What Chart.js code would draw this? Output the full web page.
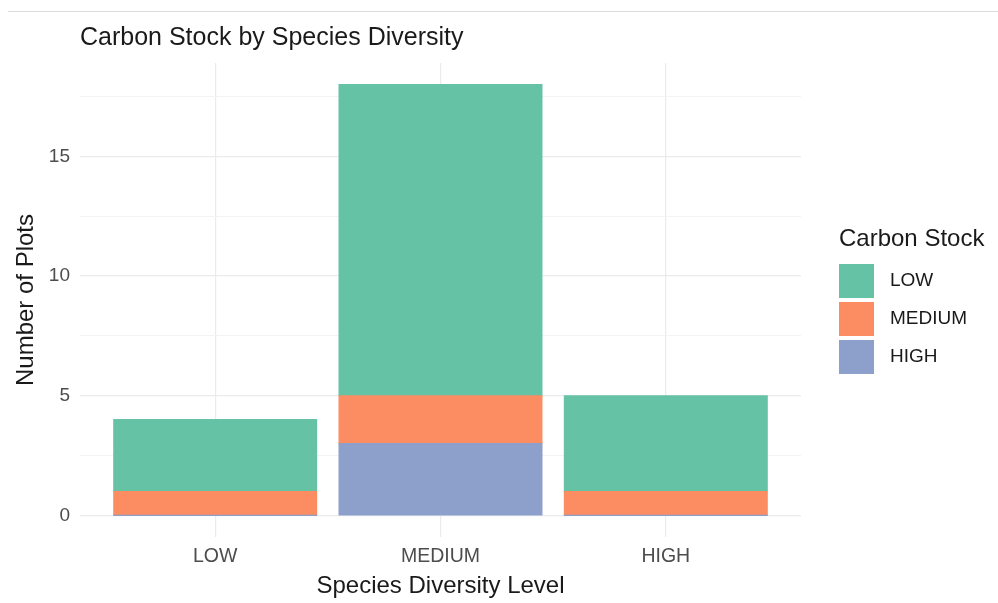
<!DOCTYPE html>
<html>
<head>
<meta charset="utf-8">
<script src="https://cdn.jsdelivr.net/npm/chart.js@4.4.1/dist/chart.umd.min.js"></script>
<style>
  html, body { margin: 0; padding: 0; background: #fff; }
  #wrap { position: relative; width: 998px; height: 603px; }
  #topline { position: absolute; left: 8px; right: 0; top: 11px; height: 1px; background: #dcdcdc; }
</style>
</head>
<body>
<div id="wrap">
  <div id="topline"></div>
  <canvas id="stock"></canvas>
</div>
<script>
const diversityLevels = ['LOW', 'MEDIUM', 'HIGH']
const stockLevels = ['HIGH', 'MEDIUM', 'LOW'] // bottom of stack first
const plotsHighStock = [0, 3, 0]
const plotsMediumStock = [1, 2, 1]
const plotsLowStock = [3, 13, 4]
const yTicks = [0, 2.5, 5, 7.5, 10, 12.5, 15, 17.5]

const stockColors = { LOW: '#66c2a5', MEDIUM: '#fc8d62', HIGH: '#8da0cb' }
const seriesByStock = { HIGH: plotsHighStock, MEDIUM: plotsMediumStock, LOW: plotsLowStock }

const font = 'Liberation Sans, Arial, Helvetica, sans-serif'
const isMajor = (ctx) => ctx.tick && ctx.tick.value % 5 === 0

// ggplot-style legend on the right: title, then square keys, top series first
const sideLegend = {
  id: 'sideLegend',
  afterDraw(chart) {
    const ctx = chart.ctx
    const x = chart.chartArea.right + 38
    ctx.save()
    ctx.textAlign = 'left'
    ctx.textBaseline = 'middle'
    ctx.fillStyle = '#1a1a1a'
    ctx.font = '24px ' + font
    ctx.fillText('Carbon Stock', x, 239)
    ctx.font = '19px ' + font
    chart.data.datasets.slice().reverse().forEach((ds, i) => {
      const top = 264 + i * 38
      ctx.fillStyle = ds.backgroundColor
      ctx.fillRect(x, top, 35, 34)
      ctx.fillStyle = '#1a1a1a'
      ctx.fillText(ds.label, x + 51, top + 17)
    })
    ctx.restore()
  },
}

const stockConfig = {
  type: 'bar',
  data: {
    datasets: stockLevels.map((lvl) => ({
      label: lvl,
      backgroundColor: stockColors[lvl],
      borderWidth: 0,
      inflateAmount: 0.6,
      data: seriesByStock[lvl].map((v, i) => ({ x: i, y: v })),
    })),
  },
  options: {
    responsive: true,
    maintainAspectRatio: false,
    animation: false,
    categoryPercentage: 0.9,
    barPercentage: 1,
    layout: { padding: { left: 0, right: 197, top: 0, bottom: 0 } },
    plugins: {
      tooltip: { enabled: false },
      legend: { display: false },
      title: {
        display: true,
        text: 'Carbon Stock by Species Diversity',
        align: 'start',
        fullSize: false,
        color: '#1a1a1a',
        font: { family: font, size: 25, weight: 'normal' },
        padding: { top: 23, bottom: 10 },
      },
    },
    scales: {
      x: {
        type: 'linear',
        stacked: true,
        offset: false,
        min: -0.6,
        max: 2.6,
        afterBuildTicks: (s) => { s.ticks = diversityLevels.map((_, i) => ({ value: i })) },
        afterFit: (s) => { s.height = 66 },
        border: { display: false },
        grid: { offset: false, color: '#ebebeb', lineWidth: 1.2, drawTicks: false },
        ticks: {
          padding: 8,
          color: '#4d4d4d',
          font: { family: font, size: 19.5 },
          callback: (v) => diversityLevels[v],
        },
        title: {
          display: true,
          text: 'Species Diversity Level',
          color: '#1a1a1a',
          font: { family: font, size: 24 },
          padding: { top: 0, bottom: 2 },
        },
      },
      y: {
        stacked: true,
        min: -0.9,
        max: 18.9,
        afterBuildTicks: (s) => { s.ticks = yTicks.map((v) => ({ value: v })) },
        afterFit: (s) => { s.width = 80 },
        border: { display: false },
        grid: {
          color: (ctx) => (isMajor(ctx) ? '#ebebeb' : '#f3f3f3'),
          lineWidth: (ctx) => (isMajor(ctx) ? 1.2 : 1),
          drawTicks: false,
        },
        ticks: {
          autoSkip: false,
          padding: 10,
          color: '#4d4d4d',
          font: { family: font, size: 19 },
          callback: (v) => (v % 5 === 0 ? v : ''),
        },
        title: {
          display: true,
          text: 'Number of Plots',
          color: '#1a1a1a',
          font: { family: font, size: 24 },
          padding: { top: 12, bottom: 0 },
        },
      },
    },
  },
  plugins: [sideLegend],
}

const stockCtx = document.getElementById('stock')
window.stockChart = new Chart(stockCtx, stockConfig)
</script>
</body>
</html>
